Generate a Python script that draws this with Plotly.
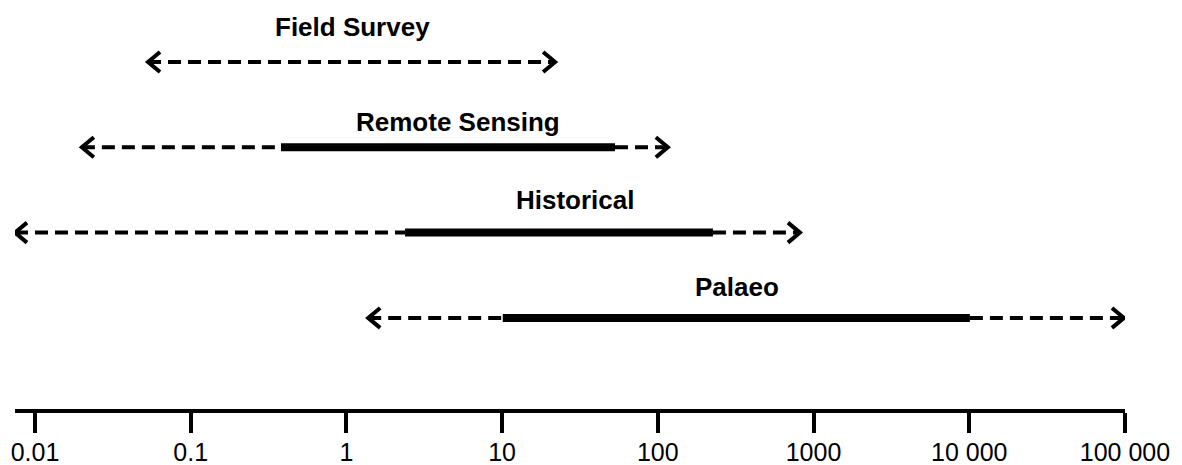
import numpy as np
import plotly.graph_objects as go

# Spatial extent covered by each data source (metres, log scale)
sources = ["Field Survey", "Remote Sensing", "Historical", "Palaeo"]
outer_min = [0.0532, 0.0200, 0.00744, 1.38]
core_min = [None, 0.380, 2.38, 10.1]
core_max = [None, 53.1, 226.0, 10100.0]
outer_max = [21.9, 116.0, 818.0, 98600.0]
label_at = [1.09, 5.21, 29.8, 322.0]

tick_vals = [0.01, 0.1, 1, 10, 100, 1000, 10000, 100000]
tick_text = ["0.01", "0.1", "1", "10", "100", "1000", "10 000", "100 000"]

INK = "#000000"
DASH = "13px,7px"
HEAD_DX = 0.077   # arrowhead depth, decades
HEAD_DY = 0.117   # arrowhead half-height, row units
label_lift = [35, 25, 33, 31]

fig = go.Figure()


def seg(x0, x1, y, width, dash=None):
    fig.add_trace(go.Scatter(
        x=[x0, x1], y=[y, y], mode="lines",
        line=dict(color=INK, width=width, dash=dash),
        hoverinfo="skip", showlegend=False, cliponaxis=False))


def head(tip, y, direction):
    back = tip * 10 ** (-direction * HEAD_DX)
    fig.add_trace(go.Scatter(
        x=[back, tip, back], y=[y - HEAD_DY, y, y + HEAD_DY], mode="lines",
        line=dict(color=INK, width=4),
        hoverinfo="skip", showlegend=False, cliponaxis=False))


for i, name in enumerate(sources):
    lo, hi = outer_min[i], outer_max[i]
    if core_min[i] is None:
        seg(lo, hi, i, 4, DASH)
    else:
        seg(lo, core_min[i], i, 4, DASH)
        seg(core_min[i], core_max[i], i, 8)
        seg(core_max[i], hi, i, 4, DASH)
    head(lo, i, -1)
    head(hi, i, +1)
    fig.add_annotation(
        x=np.log10(label_at[i]), y=i, text=f"<b>{name}</b>", showarrow=False,
        yshift=label_lift[i], font=dict(family="Liberation Sans, Arial", size=26, color=INK))

fig.update_layout(
    width=1182, height=465,
    margin=dict(l=15, r=57, t=0, b=56),
    paper_bgcolor="white", plot_bgcolor="white",
    xaxis=dict(
        type="log", range=[-2.1284, 5.0005], autorange=False,
        automargin=False,
        tickvals=tick_vals, ticktext=tick_text,
        showline=True, linecolor=INK, linewidth=4,
        ticks="outside", ticklen=20, tickwidth=4, tickcolor=INK,
        ticklabelstandoff=-2,
        showgrid=False, zeroline=False,
        tickfont=dict(family="Liberation Sans, Arial", size=25, color=INK)),
    yaxis=dict(range=[4.068, -0.727], autorange=False, visible=False,
               showgrid=False, zeroline=False),
)

fig.write_html("out.html")
